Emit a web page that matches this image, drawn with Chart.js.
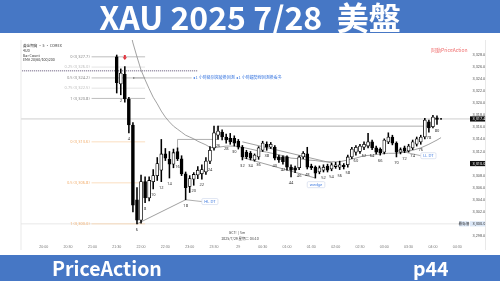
<!DOCTYPE html>
<html><head><meta charset="utf-8">
<script src="https://cdn.jsdelivr.net/npm/chart.js@4.4.0/dist/chart.umd.min.js"></script>
<style>
html,body{margin:0;padding:0;background:#fff;width:500px;height:281px;overflow:hidden;font-family:"Noto Sans CJK TC","Noto Sans",sans-serif}
#c{position:absolute;left:0;top:0}
.band{position:absolute;left:0;width:500px;background:#4677c5;color:#fff;font-weight:700}
#top{top:0;height:33px;text-align:center;font-size:32px;line-height:33px;white-space:pre}
#bot{top:255px;height:26px;font-size:19.5px;line-height:26px}
#bot span{position:absolute;top:0}
</style></head><body>
<canvas id="c" width="500" height="281"></canvas>
<div class="band" id="top">XAU 2025 7/28  美盤</div>
<div class="band" id="bot"><span style="left:52px">PriceAction</span><span style="left:413px">p44</span></div>
<script>
// ---- data (5-minute bars, bar count 1..81) ----
const bars = [1,2,3,4,5,6,7,8,9,10,11,12,13,14,15,16,17,18,19,20,21,22,23,24,25,26,27,28,29,30,31,32,33,34,35,36,37,38,39,40,41,42,43,44,45,46,47,48,49,50,51,52,53,54,55,56,57,58,59,60,61,62,63,64,65,66,67,68,69,70,71,72,73,74,75,76,77,78,79,80,81];
const opens = [3327.7,3323.2,3324.8,3320.7,3316.4,3304.0,3300.6,3307.0,3304.3,3307.0,
3308.0,3308.9,3311.6,3310.7,3309.9,3312.0,3310.8,3308.3,3306.2,3307.4,
3308.1,3308.3,3308.6,3310.4,3312.6,3314.7,3315.2,3314.4,3314.2,3314.2,
3313.7,3312.7,3311.9,3311.7,3310.6,3311.1,3312.2,3313.2,3312.7,3312.7,
3311.1,3311.1,3311.1,3309.4,3309.3,3309.3,3311.1,3311.6,3309.6,3309.4,
3308.6,3308.9,3309.6,3309.1,3309.5,3309.4,3309.7,3309.8,3311.1,3311.9,
3312.0,3312.7,3312.9,3313.6,3312.6,3312.4,3311.9,3313.6,3314.4,3313.4,
3311.9,3312.6,3312.1,3312.6,3313.2,3313.6,3314.4,3316.9,3316.1,3317.6,3317.4];
const highs = [3328.0,3325.7,3326.1,3321.0,3316.8,3306.0,3308.1,3307.8,3307.8,3309.0,
3311.0,3314.0,3312.5,3312.0,3312.4,3312.6,3311.3,3308.6,3308.0,3308.5,
3309.5,3309.8,3311.0,3312.8,3316.2,3316.2,3315.6,3314.9,3315.0,3314.6,
3314.0,3313.0,3312.2,3312.0,3311.6,3312.8,3313.7,3313.6,3313.5,3313.0,
3311.4,3311.3,3311.3,3309.8,3309.6,3311.3,3312.0,3312.7,3309.9,3309.6,
3309.6,3309.8,3309.9,3310.1,3310.2,3310.4,3310.0,3311.4,3312.7,3313.0,
3313.2,3313.6,3315.0,3313.9,3312.9,3312.6,3314.1,3315.1,3314.7,3313.6,
3312.6,3312.9,3313.2,3313.9,3314.4,3314.7,3317.5,3317.2,3318.0,3317.9,3317.5];
const lows = [3321.7,3321.4,3320.2,3315.1,3302.0,3300.0,3300.1,3303.5,3303.8,3305.8,
3307.2,3307.0,3310.5,3307.6,3309.3,3310.5,3308.0,3304.0,3305.2,3306.4,
3307.5,3307.4,3308.2,3310.0,3312.2,3314.0,3313.9,3313.4,3313.2,3312.9,
3312.4,3310.6,3310.8,3310.6,3310.4,3310.7,3312.0,3312.2,3312.5,3310.6,
3310.2,3309.9,3308.9,3307.8,3308.5,3309.0,3310.8,3309.1,3309.0,3307.6,
3308.3,3308.6,3308.6,3308.8,3309.2,3309.0,3309.1,3309.4,3310.8,3311.4,
3311.7,3312.3,3312.6,3312.3,3311.6,3311.4,3311.6,3313.3,3313.1,3311.1,
3311.6,3311.8,3311.9,3312.3,3312.9,3313.2,3314.1,3315.2,3315.9,3316.5,3317.3];
const closes = [3323.4,3325.0,3320.7,3316.4,3303.1,3300.6,3307.0,3304.3,3307.2,3308.0,
3310.0,3311.6,3310.9,3309.9,3311.8,3310.8,3308.3,3306.0,3307.5,3308.2,
3308.9,3309.0,3310.4,3312.2,3315.1,3315.4,3314.4,3313.9,3313.6,3313.4,
3312.7,3311.1,3311.1,3310.9,3311.4,3312.6,3313.4,3312.7,3313.2,3310.9,
3310.6,3310.3,3309.4,3308.9,3308.9,3311.1,3311.7,3309.4,3309.3,3308.4,
3309.3,3309.4,3308.9,3309.8,3309.8,3309.8,3309.5,3311.1,3312.4,3312.7,
3312.9,3313.2,3313.6,3312.6,3311.9,3311.8,3313.9,3314.4,3313.4,3311.9,
3312.3,3312.1,3312.9,3313.6,3314.1,3314.4,3317.2,3315.9,3317.7,3317.3,3317.4];

// moving average
const emaBars = [4,5,6,7,8,9,10,11,12,13,14,15,16,17,18,19,20,21,22,23,24,25,26,28,30,32,34,36,38,40,42,44,46,48,50,52,54,56,58,60,62,64,66,68,70,72,74,76,78,80,81];
const emaVals = [3333.0,3330.0,3327.7,3325.5,3323.9,3322.4,3321.0,3319.9,3318.7,3317.7,3316.9,3316.2,3315.7,3315.2,3314.7,3314.4,3314.1,3313.7,3313.4,3313.1,3312.7,3312.6,3312.7,3312.9,3312.9,3312.7,3312.4,3312.1,3311.9,3311.6,3311.3,3310.9,3310.8,3310.6,3310.5,3310.3,3310.3,3310.3,3310.6,3310.9,3311.3,3311.4,3311.6,3311.7,3311.7,3311.9,3312.2,3312.6,3313.2,3313.9,3314.3];

// drawn lines [bar, price] pairs
const hlTrend   = [[6,3300.0],[18,3304.0]];
const hlLead    = [[18,3304.0],[22,3303.7]];
const wedgeUp   = [[32,3313.6],[54,3310.1]];
const wedgeLow  = [[32,3311.0],[50,3307.6]];
const rangeTop  = [[25.8,3316.2],[78,3316.2]];
const boxTop    = [[16,3314.0],[25.8,3314.0]];
const llTrend   = [[70,3312.2],[76,3311.3]];

// fibonacci levels
const fibA = {x0:-5.2, x1:8, lv:['0','0.25','0.5','0.75','1'], px:[3327.7,3326.0,3324.2,3322.5,3320.8]};
const fibB = {x0:-5.2, x1:8, lv:['0','0.5','1'], px:[3313.6,3306.8,3300.0]};

// axis ticks
const yTicks = [3298,3302,3304,3306,3308,3312,3314,3316,3318,3320,3322,3324,3326,3328];
const tickBars = [-17,-11,-5,1,7,13,19,25,31,37,43,49,55,61,67,73,79,85];
const tickLabels = ['20:00','20:30','21:00','21:30','22:00','22:30','23:00','23:30','29','00:30','01:00','01:30','02:00','02:30','03:00','03:30','04:00','04:30'];
const lastPrice = 3317.4, crossPrice = 3310.0, lowPrice = 3300.0;

const fmt = v => v.toLocaleString('en-US',{minimumFractionDigits:1,maximumFractionDigits:1});
const pts = a => a.map(p => ({x:p[0], y:p[1]}));

const bodyData = bars.map((b,i)=>({x:b, y:[opens[i], closes[i]]}));
const wickData = bars.map((b,i)=>({x:b, y:[lows[i], highs[i]]}));
const bodyFill = bars.map((b,i)=> closes[i] >= opens[i] ? '#ffffff' : '#000000');

const lineDs = (data, color, w, dash) => ({type:'line', data, borderColor:color, borderWidth:w||0.8, borderDash:dash||[], pointRadius:0, fill:false, tension:0});

const ann = {
  id:'ann',
  beforeDatasetsDraw(ch){
    const c = ch.ctx, X = v=>ch.scales.x.getPixelForValue(v), Y = v=>ch.scales.y.getPixelForValue(v);
    const a = ch.chartArea;
    c.save();
    c.strokeStyle = '#b8b8b8'; c.lineWidth = 0.7;
    c.beginPath(); c.moveTo(a.left, Y(lastPrice)); c.lineTo(a.right, Y(lastPrice)); c.stroke();
    c.strokeStyle = '#dcdcdc';
    c.beginPath(); c.moveTo(a.left, Y(lowPrice)); c.lineTo(a.right, Y(lowPrice)); c.stroke();
    c.strokeStyle = '#a49cb0'; c.lineWidth = 1.6; c.setLineDash([1.2,0.8]);
    c.beginPath(); c.moveTo(a.left+1, Y(3325.4)); c.lineTo(X(21), Y(3325.4)); c.stroke();
    c.setLineDash([]);
    c.font = '4px "Noto Sans", sans-serif'; c.textAlign='right'; c.textBaseline='middle';
    fibA.px.forEach((p,i)=>{
      const light = fibA.lv[i]==='0.25'||fibA.lv[i]==='0.75';
      c.strokeStyle = light ? '#d9d9d9' : '#a0a0a0'; c.lineWidth = 0.7;
      c.beginPath(); c.moveTo(X(fibA.x0), Y(p)); c.lineTo(X(fibA.x1), Y(p)); c.stroke();
      c.fillStyle = light ? '#bdbdbd' : '#8a8a8a';
      c.fillText(fibA.lv[i]+' ('+fmt(p)+')', X(fibA.x0)-2, Y(p));
    });
    fibB.px.forEach((p,i)=>{
      c.strokeStyle = '#f8cfa2'; c.lineWidth = 0.7;
      c.beginPath(); c.moveTo(X(fibB.x0), Y(p)); c.lineTo(X(fibB.x1), Y(p)); c.stroke();
      c.fillStyle = '#f2b071';
      c.fillText(fibB.lv[i]+' ('+fmt(p)+')', X(fibB.x0)-2, Y(p));
    });
    c.strokeStyle = '#8c8c8c'; c.lineWidth = 0.7;
    c.beginPath(); c.moveTo(X(16), Y(3314.0)); c.lineTo(X(16), Y(3312.2)); c.stroke();
    c.beginPath(); c.moveTo(X(25.8), Y(3314.0)); c.lineTo(X(25.8), Y(3316.2)); c.stroke();
    c.restore();
  },
  afterDatasetsDraw(ch){
    const c = ch.ctx, X = v=>ch.scales.x.getPixelForValue(v), Y = v=>ch.scales.y.getPixelForValue(v);
    const a = ch.chartArea;
    c.save();
    c.font = '4px "Noto Sans", sans-serif'; c.fillStyle = '#333'; c.textAlign='center'; c.textBaseline='middle';
    bars.forEach((b,i)=>{ if (b%2===0 && b!==50 && b!==68) c.fillText(String(b), X(b), Y(lows[i])+6); });
    c.fillStyle = '#e0303a';
    const ax = X(3), ay = Y(3327.5);
    c.fillRect(ax-1, ay-3, 2, 2.5);
    c.beginPath(); c.moveTo(ax-2.2, ay-0.7); c.lineTo(ax+2.2, ay-0.7); c.lineTo(ax, ay+2); c.closePath(); c.fill();
    c.strokeStyle = '#999'; c.lineWidth = 0.6;
    c.beginPath(); c.moveTo(X(5.2), Y(3324.2)); c.lineTo(X(19.5), Y(3324.2)); c.stroke();
    c.fillStyle = '#555'; c.beginPath(); c.arc(X(5.2), Y(3324.2), 0.7, 0, 7); c.fill();
    c.font = '4px "Noto Sans CJK TC", sans-serif'; c.textAlign='left'; c.fillStyle = '#3b78e0';
    c.fillText('◂ 1 小時級別突破後回測 ◂ 1 小時趨勢線回測後看多', X(19.5)+1, Y(3324.2));
    const tag = (txt, bx, p) => {
      c.font = '4px "Noto Sans", sans-serif';
      const w = c.measureText(txt).width + 5, x = X(bx), y = Y(p);
      c.fillStyle = '#fff'; c.strokeStyle = '#c9d4ea'; c.lineWidth = 0.6;
      c.beginPath(); c.roundRect(x, y-3, w, 6, 1.2); c.fill(); c.stroke();
      c.fillStyle = '#3b78e0'; c.textAlign='left'; c.fillText(txt, x+2.5, y);
    };
    tag('HL DT', 22, 3303.7);
    tag('wedge', 48, 3306.5);
    tag('LL DT', 76, 3311.3);
    c.fillStyle = '#333'; c.textAlign='left'; c.font = '3.6px "Noto Sans CJK TC", sans-serif';
    ['黃金期貨 · 5 · COMEX','4UD','Bar Count','EMA 20(60/100)200'].forEach((t,i)=> c.fillText(t, 23, 46 + i*4.6));
    c.fillStyle = '#f07070'; c.font = '5px "Noto Sans CJK TC", sans-serif';
    c.fillText('阿勳PriceAction', 431, 50);
    c.fillStyle = '#444'; c.font = '3.5px "Noto Sans", sans-serif'; c.textAlign='center';
    c.fillText('GC1! | 5m', 237, 233);
    c.font = '3.5px "Noto Sans CJK TC", sans-serif';
    c.fillText('2025/7/29 星期二 04:10', 240, 239);
    const box = (p, bg, fg, txt) => {
      const y = Y(p);
      c.fillStyle = bg; c.fillRect(a.right-1, y-2.6, 15.5, 5.2);
      c.fillStyle = fg; c.font = '3.8px "Noto Sans", sans-serif'; c.textAlign='left'; c.fillText(txt, a.right+1.5, y);
    };
    box(lastPrice, '#111', '#fff', fmt(lastPrice));
    box(crossPrice, '#111', '#fff', fmt(crossPrice));
    box(lowPrice, '#dbe7f7', '#333', fmt(lowPrice));
    c.fillStyle = '#dbe7f7'; c.fillRect(a.right-12, Y(lowPrice)-2.6, 10, 5.2);
    c.fillStyle = '#333'; c.font = '3.6px "Noto Sans CJK TC", sans-serif'; c.textAlign='center';
    c.fillText('最低價', a.right-7, Y(lowPrice));
    c.strokeStyle = '#e3e3e3'; c.lineWidth = 0.8;
    c.beginPath(); c.moveTo(a.left, 40); c.lineTo(a.left, 250); c.moveTo(485.5, 40); c.lineTo(485.5, 250); c.stroke();
    c.restore();
  }
};

new Chart(document.getElementById('c'), {
  type: 'bar',
  data: {
    datasets: [
      {type:'bar', data: bodyData, backgroundColor: bodyFill, borderColor:'#000', borderWidth:0.8, borderSkipped:false, barThickness:3, grouped:false},
      {type:'bar', data: wickData, backgroundColor:'#000', borderWidth:0, barThickness:0.9, grouped:false},
      lineDs(emaBars.map((b,i)=>({x:b, y:emaVals[i]})), '#8a8a8a', 0.8),
      lineDs(pts(hlTrend), '#777', 0.7),
      lineDs(pts(hlLead), '#777', 0.6),
      lineDs(pts(wedgeUp), '#777', 0.7),
      lineDs(pts(wedgeLow), '#777', 0.7),
      lineDs(pts(rangeTop), '#8c8c8c', 0.7),
      lineDs(pts(boxTop), '#8c8c8c', 0.7),
      lineDs(pts(llTrend), '#777', 0.6)
    ]
  },
  options: {
    responsive:false, animation:false, devicePixelRatio:1,
    layout:{padding:{left:21, top:40, right:14, bottom:31}},
    plugins:{legend:{display:false}, tooltip:{enabled:false}},
    scales:{
      x:{type:'linear', min:-22.61, max:88.39, offset:false,
         grid:{display:false, drawTicks:false, tickLength:0}, border:{display:false},
         afterBuildTicks: s => { s.ticks = tickBars.map(v=>({value:v})); },
         afterFit: s => { s.height = 6; },
         ticks:{autoSkip:false, maxRotation:0, padding:1, font:{size:3.6}, color:'#777',
                callback: v => tickLabels[tickBars.indexOf(v)]}},
      y:{position:'right', min:3296.66, max:3330.49,
         grid:{display:false, drawTicks:false, tickLength:0}, border:{display:false},
         afterBuildTicks: s => { s.ticks = yTicks.map(v=>({value:v})); },
         afterFit: s => { s.width = 15; },
         ticks:{autoSkip:false, padding:1.5, font:{size:3.8}, color:'#555', callback: v => fmt(v)}}
    }
  },
  plugins:[ann]
});
</script>
</body></html>
